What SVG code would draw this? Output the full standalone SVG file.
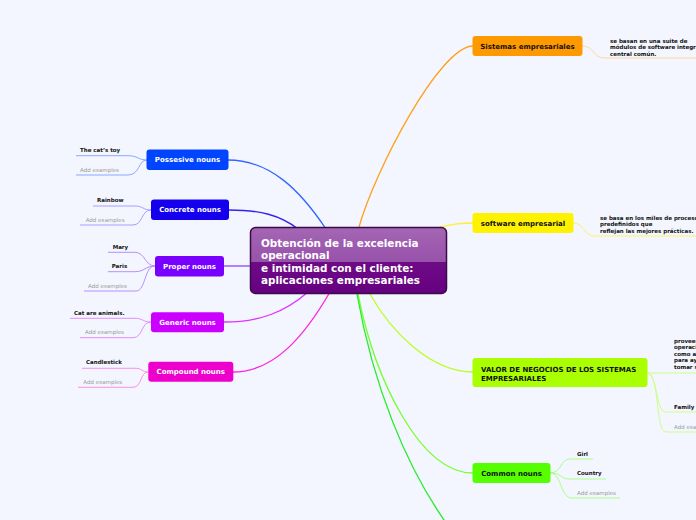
<svg xmlns="http://www.w3.org/2000/svg" width="696" height="520" viewBox="0 0 696 520">
<defs>
<linearGradient id="cg" x1="0" y1="0" x2="0" y2="1">
<stop offset="0" stop-color="#a466b4"/>
<stop offset="0.53" stop-color="#9752aa"/>
<stop offset="0.53" stop-color="#6f0a87"/>
<stop offset="1" stop-color="#650080"/>
</linearGradient>
</defs>
<style>
.c{fill:none;stroke-width:1.3}
.l{fill:none;stroke-width:1}
.nl{font-family:"DejaVu Sans",sans-serif;font-weight:bold;font-size:7px;text-anchor:middle}
.w{fill:#ffffff}
.k{fill:#111111}
.lf{font-family:"DejaVu Sans",sans-serif;font-weight:bold;font-size:5.5px;fill:#111111}
.ad{font-family:"DejaVu Sans",sans-serif;font-size:5.5px;fill:#9a9a9a}
.ct{font-family:"DejaVu Sans",sans-serif;font-weight:bold;font-size:10.4px;fill:#ffffff}
</style>
<rect width="696" height="520" fill="#f3f6fe"/>
<g id="connectors">
<path class="c" stroke="#ff9f1a" d="M359,227 C375,170 440,46 473,46"/>
<path class="c" stroke="#ffee33" d="M440,227 C455,224 460,223 473,223"/>
<path class="c" stroke="#bbff22" d="M370,294 C390,330 430,372 473,372"/>
<path class="c" stroke="#77ff33" d="M358,294 C375,380 420,473 473,473"/>
<path class="c" stroke="#22ee22" d="M357,294 C372,380 405,470 455,535"/>
<path class="c" stroke="#3366ff" d="M228,160 C270,160 300,190 326,229"/>
<path class="c" stroke="#3322ee" d="M229,210 C260,210 280,215 298,229"/>
<path class="c" stroke="#8844ff" d="M224,266 L252,266"/>
<path class="c" stroke="#dd33ff" d="M224,322 C260,322 285,312 308,292"/>
<path class="c" stroke="#ff22dd" d="M233,372 C275,372 305,335 330,292"/>
<path class="l" stroke="#ffd6a4" d="M582,46 C595,46 592,58 605,58 L696,58"/>
<path class="l" stroke="#fff06a" d="M573,223 C585,223 583,236 595,236 L696,236"/>
<path class="l" stroke="#ccff88" d="M647,373 L696,373"/>
<path class="l" stroke="#ccff88" d="M647,373 C658,373 655,412 666,412 L696,412"/>
<path class="l" stroke="#ccff88" d="M647,373 C660,373 655,432 666,432 L696,432"/>
<path class="l" stroke="#aaff88" d="M550,473 C562,473 560,459 570,459 L593,459"/>
<path class="l" stroke="#aaff88" d="M550,473 C562,473 560,479 570,479 L606,479"/>
<path class="l" stroke="#aaff88" d="M550,473 C562,473 560,498 572,498 L620,498"/>
<path class="l" stroke="#8aa8ff" d="M76,155.7 L128,155.7 C138,155.7 138,160 147,160"/>
<path class="l" stroke="#8aa8ff" d="M76,175 L128,175 C140,175 138,160 147,160"/>
<path class="l" stroke="#a99cff" d="M93,206 L135,206 C143,206 143,210 151,210"/>
<path class="l" stroke="#a99cff" d="M80,225 L133,225 C143,225 141,210 151,210"/>
<path class="l" stroke="#bb8cff" d="M108,252.3 L135,252.3 C145,252.3 145,266 155,266"/>
<path class="l" stroke="#bb8cff" d="M108,271.7 L135,271.7 C145,271.7 145,266 155,266"/>
<path class="l" stroke="#bb8cff" d="M84,291 L136,291 C146,291 144,266 155,266"/>
<path class="l" stroke="#e48cff" d="M70,318.3 L135,318.3 C143,318.3 143,322 151,322"/>
<path class="l" stroke="#e48cff" d="M80,337.7 L133,337.7 C143,337.7 141,322 151,322"/>
<path class="l" stroke="#ff8cee" d="M82,368.3 L136,368.3 C142,368.3 142,372 148,372"/>
<path class="l" stroke="#ff8cee" d="M78,387.3 L133,387.3 C142,387.3 140,372 148,372"/>
</g>
<g id="center">
<rect x="250.5" y="227.5" width="196" height="66" rx="5" fill="url(#cg)" stroke="#3b0a48" stroke-width="1.5"/>
<text class="ct" x="261" y="247">Obtención de la excelencia</text>
<text class="ct" x="261" y="259.3">operacional</text>
<text class="ct" x="261" y="271.6">e intimidad con el cliente:</text>
<text class="ct" x="261" y="283.9">aplicaciones empresariales</text>
</g>
<g id="sistemas">
<rect x="472.5" y="36" width="110" height="20" rx="3" fill="#ff9900"/>
<text class="nl k" x="527.5" y="48.6">Sistemas empresariales</text>
</g>
<g id="sistemas-text">
<text class="lf" x="610" y="42.5">se basan en una suite de</text>
<text class="lf" x="610" y="49">módulos de software integrados y una base de datos</text>
<text class="lf" x="610" y="55.5">central común.</text>
</g>
<g id="software">
<rect x="472.5" y="213" width="101" height="20" rx="3" fill="#fff200"/>
<text class="nl k" x="523" y="225.6">software empresarial</text>
</g>
<g id="software-text">
<text class="lf" x="600" y="219.5">se basa en los miles de procesos de negocios</text>
<text class="lf" x="600" y="226">predefinidos que</text>
<text class="lf" x="600" y="232.5">reflejan las mejores prácticas.</text>
</g>
<g id="valor">
<rect x="472.5" y="358" width="175" height="29" rx="3" fill="#aaff00"/>
<text class="nl k" x="481" y="372" style="text-anchor:start">VALOR DE NEGOCIOS DE LOS SISTEMAS</text>
<text class="nl k" x="481" y="380.6" style="text-anchor:start">EMPRESARIALES</text>
</g>
<g id="valor-text">
<text class="lf" x="674" y="342.5">proveen valor al incrementar la eficiencia</text>
<text class="lf" x="674" y="349">operacional y al proporcionar información</text>
<text class="lf" x="674" y="355.5">como apoyo</text>
<text class="lf" x="674" y="362">para ayudar a los gerentes a</text>
<text class="lf" x="674" y="368.5">tomar sus decisiones.</text>
</g>
<g id="family"><text class="lf" x="674" y="409">Family</text></g>
<g id="valor-add"><text class="ad" x="674" y="429">Add examples</text></g>
<g id="common">
<rect x="472.5" y="463" width="78" height="20" rx="3" fill="#55ff00"/>
<text class="nl k" x="511.5" y="475.6">Common nouns</text>
</g>
<g id="girl"><text class="lf" x="577" y="456">Girl</text></g>
<g id="country"><text class="lf" x="577" y="475">Country</text></g>
<g id="common-add"><text class="ad" x="577" y="494.5">Add examples</text></g>
<g id="possesive">
<rect x="146.5" y="149.5" width="82" height="20.5" rx="3" fill="#0044ff"/>
<text class="nl w" x="187.5" y="162.3">Possesive nouns</text>
</g>
<g id="cats-toy"><text class="lf" x="80" y="152">The cat’s toy</text></g>
<g id="possesive-add"><text class="ad" x="80" y="172">Add examples</text></g>
<g id="concrete">
<rect x="151" y="199.5" width="78" height="20.5" rx="3" fill="#1500ee"/>
<text class="nl w" x="190" y="212.3">Concrete nouns</text>
</g>
<g id="rainbow"><text class="lf" x="97" y="202.3">Rainbow</text></g>
<g id="concrete-add"><text class="ad" x="85.7" y="222">Add examples</text></g>
<g id="proper">
<rect x="155" y="256" width="69" height="20.5" rx="3" fill="#7700ff"/>
<text class="nl w" x="189.5" y="268.8">Proper nouns</text>
</g>
<g id="mary"><text class="lf" x="112.7" y="249">Mary</text></g>
<g id="paris"><text class="lf" x="111.7" y="268">Paris</text></g>
<g id="proper-add"><text class="ad" x="88" y="288">Add examples</text></g>
<g id="generic">
<rect x="151" y="312.3" width="73" height="20" rx="3" fill="#cc00ff"/>
<text class="nl w" x="187.5" y="324.8">Generic nouns</text>
</g>
<g id="cat-animals"><text class="lf" x="74" y="314.5">Cat are animals.</text></g>
<g id="generic-add"><text class="ad" x="85" y="333.7">Add examples</text></g>
<g id="compound">
<rect x="148.3" y="361.7" width="85" height="20" rx="3" fill="#ee00cc"/>
<text class="nl w" x="190.8" y="374.2">Compound nouns</text>
</g>
<g id="candlestick"><text class="lf" x="86" y="363.7">Candlestick</text></g>
<g id="compound-add"><text class="ad" x="83.3" y="383.7">Add examples</text></g>
</svg>
